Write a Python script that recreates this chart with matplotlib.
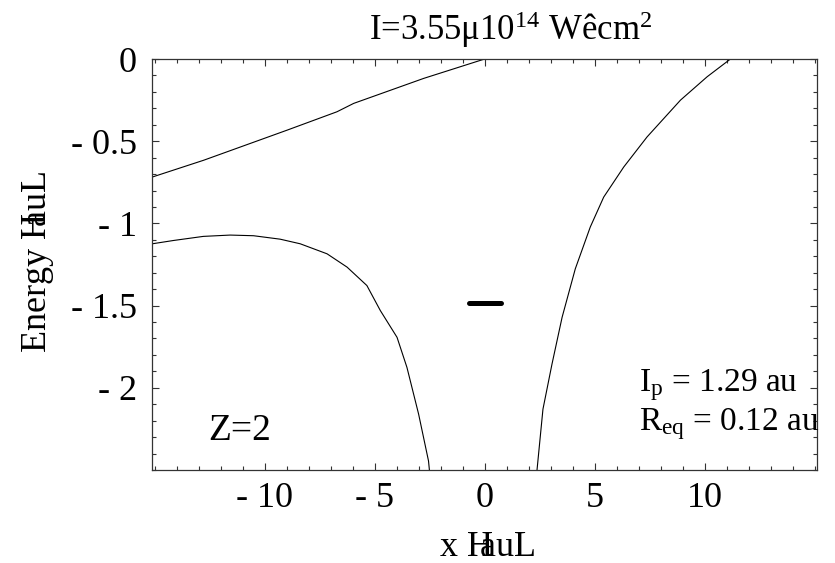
import numpy as np
import matplotlib
matplotlib.use("Agg")
import matplotlib.pyplot as plt
from matplotlib.ticker import MultipleLocator, FixedLocator

plt.rcParams['font.family'] = ['Liberation Serif', 'DejaVu Serif']
plt.rcParams['mathtext.fontset'] = 'custom'
plt.rcParams['mathtext.rm'] = 'Liberation Serif'
plt.rcParams['mathtext.it'] = 'Liberation Serif:italic'

# upper branch (straight field line)
line_x = [-15.1, -12.77, -8.98, -6.71, -5.95, -2.77, 0.0]
line_y = [-0.718, -0.616, -0.433, -0.321, -0.270, -0.118, 0.0]

# left well wall
left_x = [-15.1, -14.14, -12.78, -11.56, -10.5, -9.29, -8.38, -7.16, -6.25,
          -5.35, -4.74, -3.98, -3.53, -3.0, -2.55, -2.51]
left_y = [-1.124, -1.104, -1.079, -1.071, -1.075, -1.096, -1.124, -1.185,
          -1.266, -1.378, -1.530, -1.693, -1.876, -2.16, -2.445, -2.5]

# right well wall
right_x = [2.38, 2.65, 3.06, 3.52, 4.12, 4.80, 5.41, 6.32, 7.38, 8.9, 10.11, 11.17]
right_y = [-2.5, -2.13, -1.856, -1.571, -1.276, -1.022, -0.840, -0.657,
           -0.474, -0.25, -0.108, 0.0]

# bound level marker
level_x = [-0.7, 0.75]
level_y = [-1.483, -1.483]

xticks = [-10, -5, 0, 5, 10]
xticklabels = ["- 10", "- 5", "0", "5", "10"]
yticks = [0, -0.5, -1, -1.5, -2]
yticklabels = ["0", "- 0.5", "- 1", "- 1.5", "- 2"]

fig = plt.figure(figsize=(8.35, 5.63), dpi=100)
ax = fig.add_axes([0.1824, 0.1652, 0.796, 0.730])

ax.plot(line_x, line_y, color='black', lw=0.8)
ax.plot(left_x, left_y, color='black', lw=0.8)
ax.plot(right_x, right_y, color='black', lw=0.8)
ax.plot(level_x, level_y, color='black', lw=3.6, solid_capstyle='round')

ax.set_xlim(-15.1, 15.1)
ax.set_ylim(-2.5, 0)

ax.xaxis.set_major_locator(FixedLocator(xticks))
ax.set_xticklabels(xticklabels)
ax.xaxis.set_minor_locator(MultipleLocator(1))
ax.yaxis.set_major_locator(FixedLocator(yticks))
ax.set_yticklabels(yticklabels)
ax.yaxis.set_minor_locator(MultipleLocator(0.1))

ax.tick_params(which='both', direction='in', top=True, right=True,
               color='#333333', width=0.8, labelsize=26)
ax.tick_params(which='major', length=5)
ax.tick_params(which='minor', length=3)
ax.tick_params(axis='x', pad=9)
ax.tick_params(axis='y', pad=11)
for s in ax.spines.values():
    s.set_color('#333333')
    s.set_linewidth(0.9)

ax.text(-12.55, -2.32, "Z=2", fontsize=27)
ax.text(7.0, -2.02, r"I$_\mathrm{p}$ = 1.29 au", fontsize=24)
ax.text(7.0, -2.26, r"R$_\mathrm{eq}$ = 0.12 au", fontsize=24)

fig.text(0.612, 0.947, r"I=3.55μ10$^{14}$ Wêcm$^{2}$", fontsize=25,
         ha='center', va='center')
fig.text(0.045, 0.535, r"Energy H$\!\!\!$auL", fontsize=26, rotation=90,
         ha='center', va='center')
fig.text(0.583, 0.028, r"x H$\!\!\!$auL", fontsize=26, ha='center', va='center')

fig.savefig("out.png", dpi=100)
